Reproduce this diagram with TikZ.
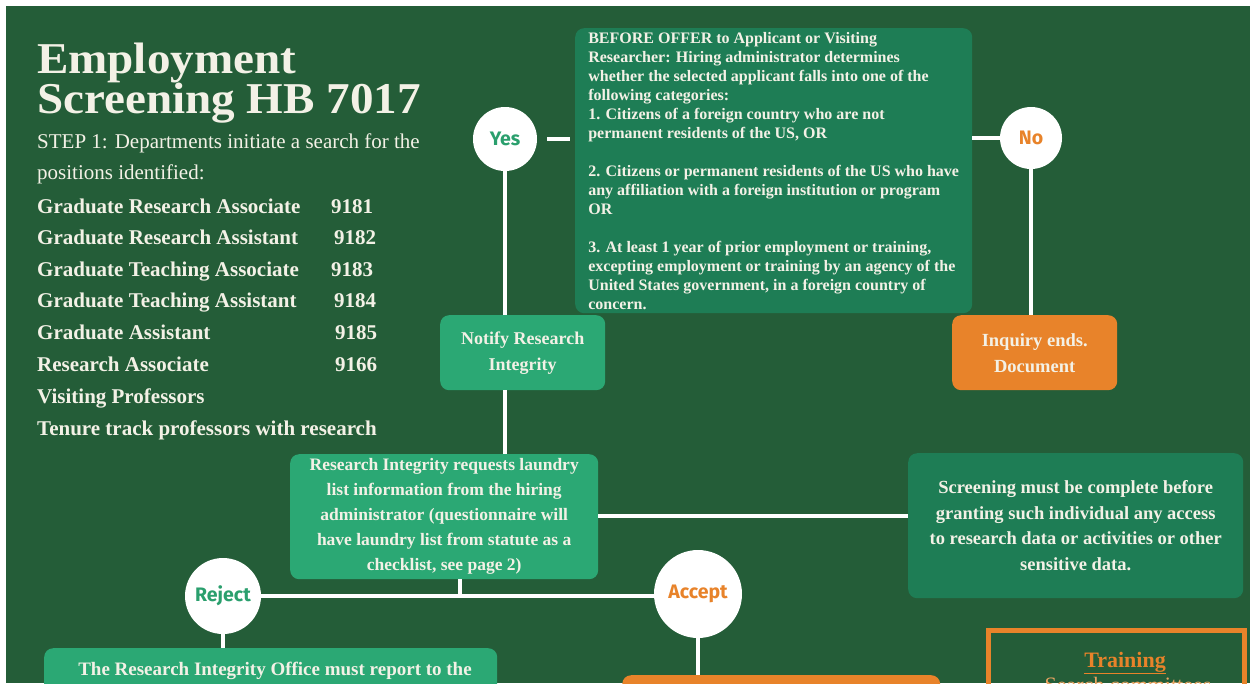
\documentclass[tikz,border=0pt]{standalone}
\usepackage{fontspec}
\setmainfont{Liberation Serif}
\newfontfamily\labelfont{Fira Sans}
\newfontfamily\widefont[FakeStretch=1.07]{Liberation Serif}
\usetikzlibrary{positioning}

\definecolor{boardgreen}{HTML}{245D38}
\definecolor{midgreen}{HTML}{1E7D55}
\definecolor{lightgreen}{HTML}{2BA874}
\definecolor{orangebox}{HTML}{E8832A}
\definecolor{chalk}{HTML}{F3F1E6}
\definecolor{yesgreen}{HTML}{2A9F6D}

\begin{document}
\begin{tikzpicture}[x=1pt,y=-1pt]
	\tikzstyle{panel} =[rounded corners=9pt, inner sep=0pt, text=chalk, font=\bfseries];
	\tikzstyle{darkpanel} =[panel, fill=midgreen];
	\tikzstyle{lightpanel} =[panel, fill=lightgreen];
	\tikzstyle{orangepanel} =[panel, fill=orangebox];
	\tikzstyle{choice} =[circle, fill=white, inner sep=0pt, font=\labelfont\bfseries\fontsize{19.5}{20}\selectfont];
	\tikzstyle{wire} =[draw=white, line width=3.5pt];
	\tikzstyle{heading} =[anchor=base west, inner sep=0pt, text=chalk, font=\widefont\bfseries\fontsize{44}{44}\selectfont];
	\tikzstyle{plainline} =[anchor=base west, inner sep=0pt, text=chalk, font=\fontsize{21}{25}\selectfont];
	\tikzstyle{listitem} =[anchor=base west, inner sep=0pt, text=chalk, font=\bfseries\fontsize{21}{25}\selectfont];

	\useasboundingbox (0,0) rectangle (1250,683);
	\clip (0,0) rectangle (1250,683);
	\fill[white] (0,0) rectangle (1250,683);
	\fill[boardgreen] (6,6) rectangle (1250,683);

	% left column
	\node[heading] (title1) at (37,73) {Employment};
	\node[heading] (title2) at (37,113) {Screening HB 7017};
	\node[plainline] (step1) at (37,148) {STEP 1: Departments initiate a search for the};
	\node[plainline] (step2) at (37,179) {positions identified:};
	\node[listitem] (gra1) at (37,213) {Graduate Research Associate};
	\node[listitem] (gra2) at (37,244) {Graduate Research Assistant};
	\node[listitem] (gta1) at (37,276) {Graduate Teaching Associate};
	\node[listitem] (gta2) at (37,307) {Graduate Teaching Assistant};
	\node[listitem] (ga) at (37,339) {Graduate Assistant};
	\node[listitem] (ra) at (37,371) {Research Associate};
	\node[listitem] (vp) at (37,403) {Visiting Professors};
	\node[listitem] (ttp) at (37,435) {Tenure track professors with research};
	\node[listitem] (code1) at (331,213) {9181};
	\node[listitem] (code2) at (334,244) {9182};
	\node[listitem] (code3) at (331,276) {9183};
	\node[listitem] (code4) at (334,307) {9184};
	\node[listitem] (code5) at (335,339) {9185};
	\node[listitem] (code6) at (335,371) {9166};

	% flow
	\node[darkpanel, anchor=north west, minimum width=397, minimum height=285, align=left, font=\bfseries\fontsize{16}{19}\selectfont] (offer) at (575,28) {BEFORE OFFER to Applicant or Visiting\\Researcher: Hiring administrator determines\\whether the selected applicant falls into one of the\\following categories:\\1. Citizens of a foreign country who are not\\permanent residents of the US, OR\\[19pt]2. Citizens or permanent residents of the US who have\\any affiliation with a foreign institution or program\\OR\\[19pt]3. At least 1 year of prior employment or training,\\excepting employment or training by an agency of the\\United States government, in a foreign country of\\concern.};
	\node[choice, minimum size=64, text=yesgreen] (yes) at (505,139) {Yes};
	\node[choice, minimum size=62, text=orangebox] (no) at (1031,138) {No};
	\node[lightpanel, anchor=north west, minimum width=165, minimum height=75, align=center, font=\bfseries\fontsize{18}{26}\selectfont] (notify) at (440,315) {Notify Research\\Integrity};
	\node[orangepanel, anchor=north west, minimum width=165, minimum height=75, align=center, font=\bfseries\fontsize{18.5}{26}\selectfont] (inquiry) at (952,315) {Inquiry ends.\\Document};
	\node[lightpanel, anchor=north west, minimum width=308, minimum height=125, align=center, font=\bfseries\fontsize{17.5}{25}\selectfont] (request) at (290,454) {Research Integrity requests laundry\\list information from the hiring\\administrator (questionnaire will\\have laundry list from statute as a\\checklist, see page 2)};
	\node[darkpanel, anchor=north west, minimum width=335, minimum height=145, align=center, font=\bfseries\fontsize{18.5}{25.5}\selectfont] (screen) at (908,453) {Screening must be complete before\\granting such individual any access\\to research data or activities or other\\sensitive data.};
	\node[choice, minimum size=76, text=yesgreen] (reject) at (223,596) {Reject};
	\node[choice, minimum size=88, text=orangebox] (accept) at (698,594) {Accept};
	\coordinate (split) at (460,596);
	\node[lightpanel, anchor=north west, minimum width=453, minimum height=80] (report) at (44,648) {};
	\node[anchor=base, inner sep=0pt, text=chalk, font=\bfseries\fontsize{19}{24}\selectfont] (reportlabel) at (275,675) {The Research Integrity Office must report to the};
	\node[orangepanel, anchor=north west, minimum width=318, minimum height=60] (proceed) at (622,675) {};
	\node[draw=orangebox, line width=5pt, anchor=north west, minimum width=256, minimum height=100] (training) at (986,628) {};
	\node[anchor=base, inner sep=0pt, text=orangebox, font=\bfseries\fontsize{22}{24}\selectfont] (traininglabel) at (1125,667) {\underline{Training}};
	\node[anchor=base, inner sep=0pt, text=orangebox!70!chalk, font=\fontsize{22}{24}\selectfont] (committees) at (1128,692) {Search committees};

	\draw[wire, shorten <=10pt, shorten >=5pt] (yes.east) -- (yes.east -| offer.west);
	\draw[wire] (no.west) -- (no.west -| offer.east);
	\draw[wire] (yes.south) -- (yes.south |- notify.north);
	\draw[wire] (notify.south -| yes.south) -- (request.north -| yes.south);
	\draw[wire] (no.south) -- (no.south |- inquiry.north);
	\draw[wire] (request.east |- 0,516) -- (screen.west |- 0,516);
	\draw[wire] (request.south -| split) -- (split);
	\draw[wire] (reject.east) -- (reject.east -| accept.west);
	\draw[wire] (reject.south) -- (reject.south |- report.north);
	\draw[wire] (accept.south) -- (accept.south |- proceed.north);
\end{tikzpicture}
\end{document}
